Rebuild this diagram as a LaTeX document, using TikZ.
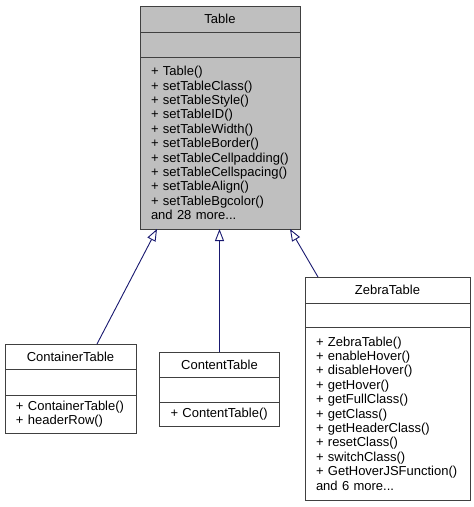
\documentclass[tikz,border=0pt]{standalone}
\usepackage{fontspec}
\setmainfont{Liberation Sans}
\usetikzlibrary{arrows.meta,positioning}
\definecolor{edgeblue}{HTML}{191970}
\definecolor{boxgray}{HTML}{BFBFBF}
\definecolor{linegray}{HTML}{404040}

\begin{document}
\begin{tikzpicture}[x=1pt, y=-1pt, node distance=0pt,
    every node/.style={font=\fontsize{13}{14.4}\selectfont},
    part/.style={draw=linegray, line width=1pt, inner sep=0pt, outer sep=0pt},
    oplist/.style={part, align=left, inner xsep=11pt},
    inherit/.style={draw=edgeblue, line width=0.9pt, -{Triangle[open, length=12pt, width=9pt, fill=white]}}]
  \useasboundingbox (0,0) rectangle (474,507);
  % base class
  \node[part, fill=boxgray, minimum width=160pt, minimum height=26pt, anchor=north] (tbl-title) at (220,6) {Table};
  \node[part, fill=boxgray, minimum width=160pt, minimum height=25pt, below=of tbl-title] (tbl-attr) {};
  \node[oplist, fill=boxgray, text width=138pt, minimum height=172pt, below=of tbl-attr] (tbl-ops) {+~Table()\\+~setTableClass()\\+~setTableStyle()\\+~setTableID()\\+~setTableWidth()\\+~setTableBorder()\\+~setTableCellpadding()\\+~setTableCellspacing()\\+~setTableAlign()\\+~setTableBgcolor()\\and~28~more...};
  % derived classes
  \node[part, minimum width=131pt, minimum height=25pt, anchor=north] (ctnr-title) at (70.5,344) {ContainerTable};
  \node[part, minimum width=131pt, minimum height=26pt, below=of ctnr-title] (ctnr-attr) {};
  \node[oplist, text width=109pt, minimum height=38pt, below=of ctnr-attr] (ctnr-ops) {+~ContainerTable()\\+~headerRow()};
  \node[part, minimum width=120pt, minimum height=25pt, anchor=north] (cont-title) at (219.5,352) {ContentTable};
  \node[part, minimum width=120pt, minimum height=25pt, below=of cont-title] (cont-attr) {};
  \node[oplist, text width=98pt, minimum height=24pt, below=of cont-attr] (cont-ops) {+~ContentTable()};
  \node[part, minimum width=165pt, minimum height=26pt, anchor=north] (zeb-title) at (387.5,277) {ZebraTable};
  \node[part, minimum width=165pt, minimum height=24pt, below=of zeb-title] (zeb-attr) {};
  \node[oplist, text width=143pt, minimum height=173pt, below=of zeb-attr] (zeb-ops) {+~ZebraTable()\\+~enableHover()\\+~disableHover()\\+~getHover()\\+~getFullClass()\\+~getClass()\\+~getHeaderClass()\\+~resetClass()\\+~switchClass()\\+~GetHoverJSFunction()\\and~6~more...};
  % inheritance
  \draw[inherit] ([xshift=26.5pt]ctnr-title.north) -- ([xshift=-63pt]tbl-ops.south);
  \draw[inherit] (cont-title.north) -- (cont-title.north |- tbl-ops.south);
  \draw[inherit] ([xshift=-69.5pt]zeb-title.north) -- ([xshift=70pt]tbl-ops.south);
\end{tikzpicture}
\end{document}
